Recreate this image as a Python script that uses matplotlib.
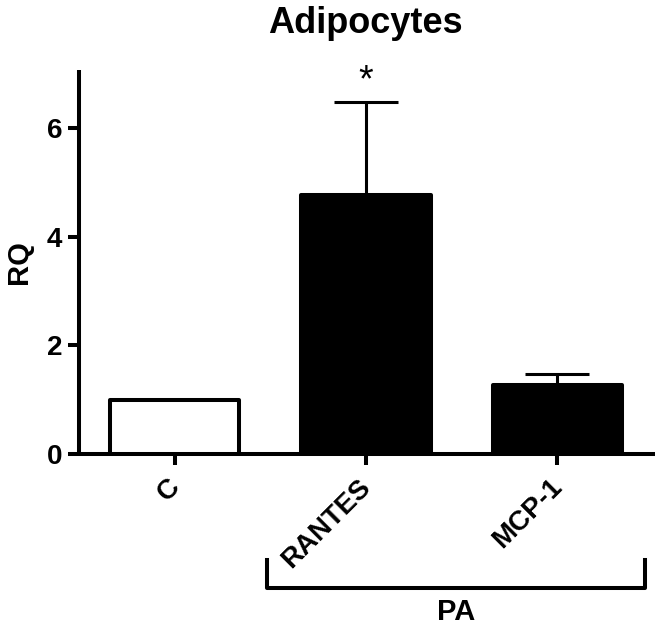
import matplotlib
matplotlib.use("Agg")
import matplotlib.pyplot as plt
from matplotlib.lines import Line2D
import matplotlib.transforms as mtransforms

plt.rcParams['font.family'] = ['Liberation Sans', 'DejaVu Sans']
plt.rcParams['font.weight'] = 'bold'

categories = ["C", "RANTES", "MCP-1"]
values = [1.0, 4.77, 1.27]
err_upper = [0.0, 1.71, 0.21]
colors = ["white", "black", "black"]
yticks = [0, 2, 4, 6]
group_label = "PA"
title = "Adipocytes"
ylabel = "RQ"

fig = plt.figure(figsize=(6.57, 6.28), dpi=100)
ax = fig.add_axes([0.1202, 0.277, 0.8768, 0.6115])

x = list(range(len(categories)))
ax.bar(x, values, width=0.675, color=colors, edgecolor="black",
       linewidth=2.9, joinstyle="round", zorder=3)
for xi, v, e in zip(x, values, err_upper):
    if e > 0:
        ax.errorbar([xi], [v], yerr=[[0], [e]], fmt="none", ecolor="black",
                    elinewidth=2.2, capsize=22.7, capthick=2.2, zorder=2)

ax.text(1, values[1] + err_upper[1] + 0.39, "*", ha="center", va="center",
        fontsize=27, fontweight="normal")

ax.set_xlim(-0.5, 2.51)
ax.set_ylim(0, 7.07)
ax.set_yticks(yticks)
ax.set_yticklabels([str(t) for t in yticks], fontsize=20, fontweight="bold")
ax.set_xticks(x)
ax.set_xticklabels([""] * len(categories))

# rotated category labels, shifted slightly left of each tick
label_trans = ax.get_xaxis_transform() + mtransforms.ScaledTranslation(
    -0.08, -0.20, fig.dpi_scale_trans)
for xi, cat in zip(x, categories):
    ax.text(xi, 0, cat, transform=label_trans, fontsize=20,
            fontweight="bold", rotation=45, ha="right", va="top",
            rotation_mode="anchor", clip_on=False)

for s in ["top", "right"]:
    ax.spines[s].set_visible(False)
for s in ["left", "bottom"]:
    ax.spines[s].set_linewidth(2.9)
    ax.spines[s].set_capstyle("butt")
ax.tick_params(axis="both", length=8, width=2.9, pad=4)

ax.set_ylabel(ylabel, fontsize=21, fontweight="bold")
ax.yaxis.set_label_coords(-0.08, 0.5)

fig.text(0.556, 0.9475, title, ha="center", va="baseline", fontsize=26,
         fontweight="bold")

# Bracket under PA groups
trans = mtransforms.blended_transform_factory(ax.transData, fig.transFigure)
bx0, bx1 = 0.48, 2.46
by0, by1 = 0.0637, 0.108
bracket = Line2D([bx0, bx0, bx1, bx1], [by1, by0, by0, by1], transform=trans,
                 color="black", linewidth=2.9, solid_joinstyle="round",
                 clip_on=False)
fig.add_artist(bracket)
fig.text((bx0 + bx1) / 2, 0.025, group_label, transform=trans, ha="center",
         va="center", fontsize=21, fontweight="bold")

fig.savefig("out.png", dpi=100)
